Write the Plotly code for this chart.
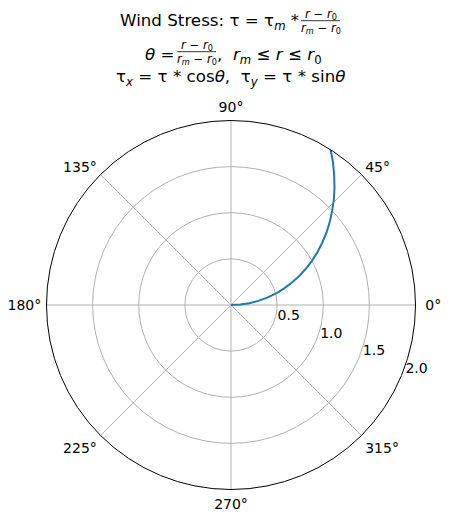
import plotly.graph_objects as go

# Curve: radius and angle (degrees)
r_vals = [0.0, 0.1, 0.2, 0.3, 0.4, 0.5, 0.6, 0.7, 0.8, 0.9, 1.0,
          1.1, 1.2, 1.3, 1.4, 1.5, 1.6, 1.7, 1.8, 1.9, 2.0]
theta_deg = [0.0, 2.9, 5.7, 8.6, 11.5, 14.3, 17.2, 20.1, 22.9, 25.8, 28.6,
             31.5, 34.4, 37.2, 40.1, 43.0, 45.8, 48.7, 51.6, 54.4, 57.3]

radial_ticks = [0.5, 1.0, 1.5, 2.0]
radial_labels = ["0.5", "1.0", "1.5", "2.0"]
angular_ticks = [0, 45, 90, 135, 180, 225, 270, 315]
angular_labels = ["\u00a00°", "45°", "90°", "135°", "180°", "225°", "270°", "315°"]

# Title pieces
line1_main = "Wind Stress: τ = τ<sub><i>m</i></sub> *"
frac_num = "<i>r</i> − <i>r</i><sub>0</sub>"
frac_den = "<i>r<sub>m</sub></i> − <i>r</i><sub>0</sub>"
line2_left = "<i>θ</i> ="
line2_right = ",  <i>r<sub>m</sub></i> ≤ <i>r</i> ≤ <i>r</i><sub>0</sub>"
line3 = "τ<sub><i>x</i></sub> = τ * cos<i>θ</i>,  τ<sub><i>y</i></sub> = τ * sin<i>θ</i>"

W, H = 445, 518   # page body has an 8px margin
OFF = 8


def px(X):
    return (X - OFF) / W


def py(Y):
    return 1 - (Y - OFF) / H


font_family = "DejaVu Sans"
fig = go.Figure()
fig.add_trace(go.Scatterpolar(
    r=r_vals, theta=theta_deg, mode="lines",
    line=dict(color="#1f77b4", width=2), showlegend=False,
))

cx, cy, half = 231, 305, 184.5
fig.update_layout(
    width=W, height=H,
    margin=dict(l=0, r=0, t=0, b=0),
    paper_bgcolor="white",
    font=dict(family=font_family, size=14, color="black"),
    polar=dict(
        domain=dict(x=[px(cx - half), px(cx + half)], y=[py(cy + half), py(cy - half)]),
        bgcolor="white",
        radialaxis=dict(
            range=[0, 2], tickvals=radial_ticks, ticktext=radial_labels,
            angle=-22.5, tickangle=-22.5, showline=False, ticks="",
            gridcolor="#b0b0b0", gridwidth=0.8,
            tickfont=dict(size=14, family=font_family),
            side="counterclockwise",
        ),
        angularaxis=dict(
            direction="counterclockwise", rotation=0,
            tickvals=angular_ticks, ticktext=angular_labels,
            showline=True, linecolor="black", linewidth=1,
            gridcolor="#b0b0b0", gridwidth=0.8,
            ticks="outside", ticklen=2, tickcolor="rgba(0,0,0,0)",
            tickfont=dict(size=14, family=font_family),
        ),
    ),
)


def ann(text, X, Y, anchor, size):
    fig.add_annotation(text=text, x=px(X), y=py(Y), xref="paper", yref="paper",
                       xanchor=anchor, yanchor="middle", showarrow=False,
                       borderpad=0, borderwidth=0,
                       font=dict(size=size, family=font_family))


# line 1
ann(line1_main, 299, 22, "right", 16.7)
ann(frac_num, 320.5, 14.5, "center", 11.7)
ann(frac_den, 320.5, 28, "center", 11.7)
# line 2
ann(line2_left, 175, 54, "right", 16.7)
ann(frac_num, 196.5, 45.5, "center", 11.7)
ann(frac_den, 196.5, 59, "center", 11.7)
ann(line2_right, 217, 55, "left", 16.7)
# line 3
ann(line3, 230, 78, "center", 16.7)

for x0, x1, yb in [(301, 340, 20.7), (177, 216, 51.7)]:
    fig.add_shape(type="line", xref="paper", yref="paper",
                  x0=px(x0), x1=px(x1), y0=py(yb), y1=py(yb),
                  line=dict(color="black", width=0.8))

fig.write_html("out.html")
